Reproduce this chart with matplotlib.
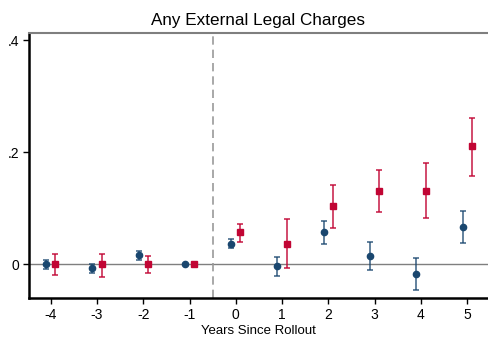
import matplotlib
matplotlib.use("Agg")
import matplotlib.pyplot as plt
import numpy as np

plt.rcParams["font.family"] = ["Liberation Sans", "DejaVu Sans"]

years = [-4, -3, -2, -1, 0, 1, 2, 3, 4, 5]

# blue series (circles)
blue_est = [0.0, -0.008, 0.016, 0.0, 0.036, -0.004, 0.057, 0.014, -0.018, 0.066]
blue_lo = [-0.009, -0.016, 0.008, 0.0, 0.028, -0.021, 0.036, -0.011, -0.046, 0.038]
blue_hi = [0.008, 0.0, 0.024, 0.0, 0.044, 0.013, 0.077, 0.039, 0.011, 0.094]

# red series (squares)
red_est = [0.0, 0.0, 0.0, 0.0, 0.057, 0.036, 0.104, 0.131, 0.131, 0.210]
red_lo = [-0.020, -0.023, -0.016, 0.0, 0.039, -0.007, 0.064, 0.092, 0.083, 0.158]
red_hi = [0.018, 0.018, 0.015, 0.0, 0.071, 0.080, 0.142, 0.168, 0.180, 0.260]

blue = "#1a476f"
red = "#c10534"

fig = plt.figure(figsize=(4.88, 3.37), dpi=100)
ax = fig.add_axes([0.0594, 0.1157, 0.9406, 0.7863])

x = np.array(years, dtype=float)
be = np.array(blue_est)
re_ = np.array(red_est)

ax.axhline(0, color="#7f7f7f", lw=1.0, zorder=1)
ax.axvline(-0.5, color="#999999", lw=1.2, ls=(0, (5, 3)), zorder=1)

# confidence intervals slightly see-through, markers solid
eb = ax.errorbar(x - 0.1, be, yerr=[be - np.array(blue_lo), np.array(blue_hi) - be],
                 fmt="none", ecolor=blue, elinewidth=1.2,
                 capsize=2.5, capthick=1.2, alpha=0.8, zorder=2)
ax.plot(x - 0.1, be, "o", color=blue, ms=4.5, zorder=3)
ax.errorbar(x + 0.1, re_, yerr=[re_ - np.array(red_lo), np.array(red_hi) - re_],
            fmt="none", ecolor=red, elinewidth=1.2,
            capsize=2.5, capthick=1.2, alpha=0.85, zorder=2)
ax.plot(x + 0.1, re_, "s", color=red, ms=5, zorder=3)

ax.set_xlim(-4.47, 5.45)
ax.set_ylim(-0.0607, 0.4125)
ax.set_xticks(years)
ax.set_xticklabels([str(v) for v in years])
ax.set_yticks([0, 0.2, 0.4])
ax.set_yticklabels(["0", ".2", ".4"])

ax.spines["right"].set_visible(False)
ax.spines["top"].set_color("#7f7f7f")
ax.spines["top"].set_linewidth(1.5)
ax.spines["left"].set_linewidth(1.8)
ax.spines["bottom"].set_linewidth(1.8)
ax.tick_params(direction="out", length=4, width=1, labelsize=10, pad=3)

ax.set_title("Any External Legal Charges", fontsize=12.3, pad=6)
ax.set_xlabel("Years Since Rollout", fontsize=9.5, labelpad=2)

fig.savefig("out.png", dpi=100)
